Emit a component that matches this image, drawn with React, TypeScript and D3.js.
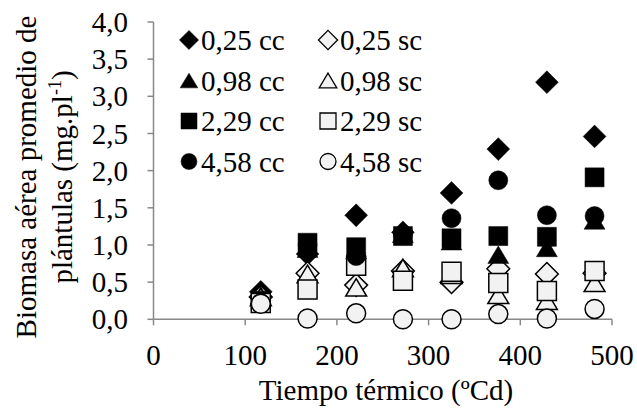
import React from "react";
import * as d3 from "d3";

// Thermal time (ºCd) of each sampling date
const thermalTime = [117, 168, 221, 272, 325, 376, 429, 481];

// Mean shoot biomass per seedling (mg.pl-1) for each treatment
const s025cc = [0.37, 0.88, 1.4, 1.17, 1.7, 2.29, 3.19, 2.46];
const s025sc = [0.3, 0.62, 0.46, 0.65, 0.5, 0.68, 0.61, 0.62];
const s098cc = [0.32, 0.95, 0.93, 1.15, 1.05, 0.87, 0.96, 1.33];
const s098sc = [0.3, 0.61, 0.43, 0.69, 0.6, 0.33, 0.25, 0.49];
const s229cc = [0.25, 1.03, 0.97, 1.12, 1.09, 1.12, 1.11, 1.91];
const s229sc = [0.22, 0.4, 0.72, 0.52, 0.64, 0.49, 0.38, 0.65];
const s458cc = [0.22, 1.0, 0.85, 1.13, 1.36, 1.87, 1.4, 1.39];
const s458sc = [0.21, 0.01, 0.08, 0.0, 0.0, 0.07, 0.01, 0.14];

const seriesNames = ["0,25 cc", "0,25 sc", "0,98 cc", "0,98 sc", "2,29 cc", "2,29 sc", "4,58 cc", "4,58 sc"];
const seriesValues = [s025cc, s025sc, s098cc, s098sc, s229cc, s229sc, s458cc, s458sc];
const seriesShapes = ["diamond", "diamond", "triangle", "triangle", "square", "square", "circle", "circle"];

const xTicks = [0, 100, 200, 300, 400, 500];
const yTicks = [0, 0.5, 1, 1.5, 2, 2.5, 3, 3.5, 4];

const W = 637;
const H = 409;
const FONT = "'Liberation Serif', 'Times New Roman', serif";
const AXIS = "#888888";
const FS = 29;

// Custom symbol types, where `size` is the marker width in px
const shapeTypes: Record<string, d3.SymbolType> = {
  diamond: {
    draw(ctx, s) {
      const r = s * 0.6;
      ctx.moveTo(0, -r);
      ctx.lineTo(r, 0);
      ctx.lineTo(0, r);
      ctx.lineTo(-r, 0);
      ctx.closePath();
    },
  },
  triangle: {
    draw(ctx, s) {
      const w = s * 0.55;
      const h = s * 0.46;
      ctx.moveTo(0, -h);
      ctx.lineTo(w, h);
      ctx.lineTo(-w, h);
      ctx.closePath();
    },
  },
  square: {
    draw(ctx, s) {
      const r = s / 2;
      ctx.rect(-r, -r, s, s);
    },
  },
  circle: {
    draw(ctx, s) {
      const r = s / 2;
      ctx.moveTo(r, 0);
      ctx.arc(0, 0, r, 0, 2 * Math.PI);
    },
  },
};

const markerPath = (shape: string, size: number) =>
  d3.symbol().type(shapeTypes[shape]).size(size)() as string;

const fmt = (v: number) => d3.format(".1f")(v).replace(".", ",");

export default function App() {
  const x = d3.scaleLinear().domain([0, 500]).range([153.5, 612]);
  const y = d3.scaleLinear().domain([0, 4]).range([319.3, 22]);

  const plotSize = 19;
  const legendSize = 16;

  return (
    <svg
      width={W}
      height={H}
      style={{ position: "absolute", left: 0, top: 0, background: "#fff" }}
      fontFamily={FONT}
    >
      <rect x={0} y={0} width={W} height={H} fill="#fff" />

      {/* y axis */}
      <line x1={x(0)} x2={x(0)} y1={y(0)} y2={y(4)} stroke={AXIS} strokeWidth={1.5} />
      {yTicks.map((t) => (
        <g key={"y" + t}>
          <line x1={x(0) - 6} x2={x(0)} y1={y(t)} y2={y(t)} stroke={AXIS} strokeWidth={1.5} />
          <text x={128} y={y(t)} dy="0.35em" textAnchor="end" fontSize={FS} fill="#000">
            {fmt(t)}
          </text>
        </g>
      ))}

      {/* x axis */}
      <line x1={x(0)} x2={x(500)} y1={y(0)} y2={y(0)} stroke={AXIS} strokeWidth={1.5} />
      {xTicks.map((t) => (
        <g key={"x" + t}>
          <line x1={x(t)} x2={x(t)} y1={y(0)} y2={y(0) + 6} stroke={AXIS} strokeWidth={1.5} />
          <text x={x(t)} y={365} textAnchor="middle" fontSize={FS} fill="#000">
            {t}
          </text>
        </g>
      ))}

      {/* axis titles */}
      <text x={386} y={400} textAnchor="middle" fontSize={FS} fill="#000">
        Tiempo térmico (ºCd)
      </text>
      <g transform="translate(0,177) rotate(-90)">
        <text x={0} y={36} textAnchor="middle" fontSize={FS} fill="#000">
          Biomasa aérea promedio de
        </text>
        <text x={0} y={72} textAnchor="middle" fontSize={FS} fill="#000">
          plántulas (mg.pl
          <tspan fontSize={18} dy={-11}>-1</tspan>
          <tspan dy={11}>)</tspan>
        </text>
      </g>

      {/* data points */}
      {seriesValues.map((vals, si) => {
        const filled = si % 2 === 0;
        return (
          <g key={"s" + si}>
            {vals.map((v, i) => (
              <path
                key={i}
                d={markerPath(seriesShapes[si], plotSize)}
                transform={`translate(${x(thermalTime[i])},${y(v)})`}
                fill={filled ? "#000" : "#f2f2f2"}
                stroke="#000"
                strokeWidth={filled ? 0.5 : 1.5}
              />
            ))}
          </g>
        );
      })}

      {/* legend */}
      {seriesNames.map((name, si) => {
        const col = si % 2;
        const row = Math.floor(si / 2);
        const mx = col === 0 ? 189 : 328;
        const my = 40 + row * 40.5;
        const filled = col === 0;
        return (
          <g key={"l" + si}>
            <path
              d={markerPath(seriesShapes[si], legendSize)}
              transform={`translate(${mx},${my})`}
              fill={filled ? "#000" : "#f2f2f2"}
              stroke="#000"
              strokeWidth={filled ? 0.5 : 1.3}
            />
            <text x={mx + 12} y={my} dy="0.35em" fontSize={FS} fill="#000">
              {name}
            </text>
          </g>
        );
      })}
    </svg>
  );
}
